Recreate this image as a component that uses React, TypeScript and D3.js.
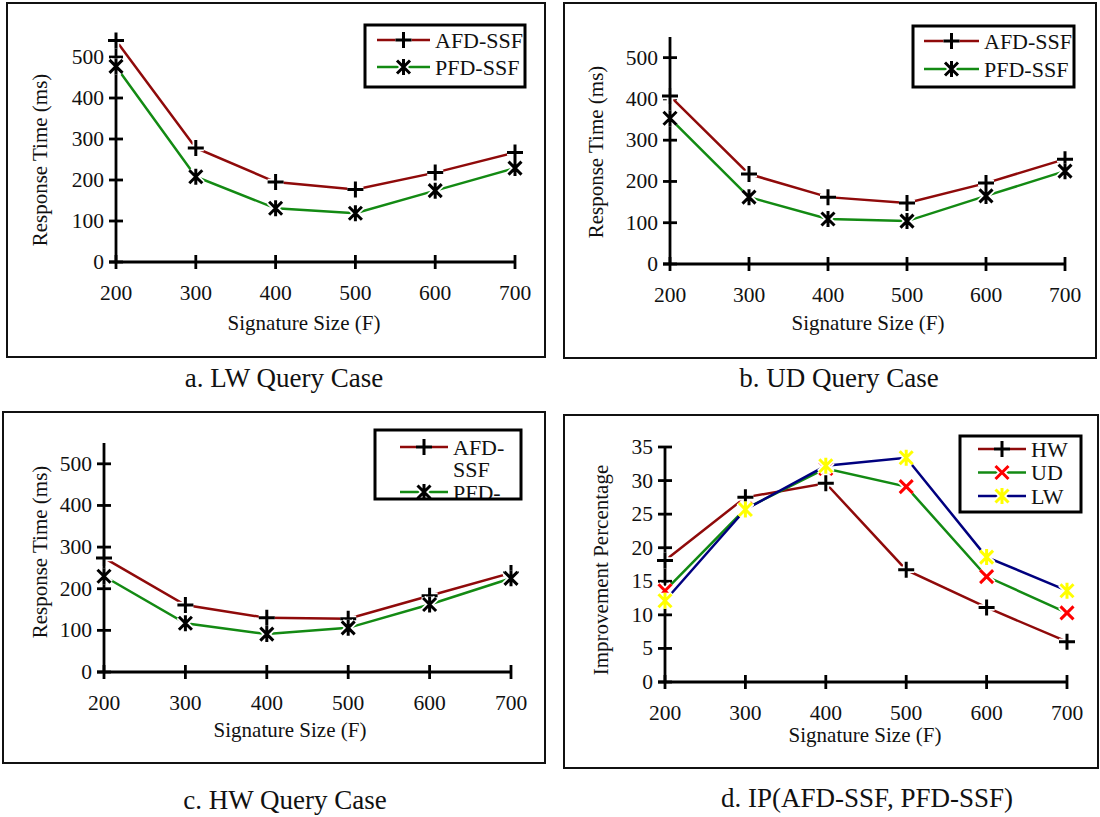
import * as d3 from 'd3';

// Signature sizes (F) shared by all four panels
const signatureSizes = [200, 300, 400, 500, 600, 700];

// Response time (ms)
const lwAfd = [540, 278, 195, 177, 218, 267];
const lwPfd = [477, 208, 131, 119, 174, 229];
const udAfd = [407, 218, 162, 148, 196, 254];
const udPfd = [353, 162, 109, 104, 165, 225];
const hwAfd = [274, 161, 130, 128, 183, 238];
const hwPfd = [230, 117, 91, 106, 162, 225];

// Improvement percentage IP(AFD-SSF, PFD-SSF)
const ipHw = [18.1, 27.5, 29.6, 16.7, 11.1, 6.0];
const ipUd = [13.6, 25.8, 31.8, 29.1, 15.7, 10.3];
const ipLw = [12.1, 25.7, 32.2, 33.4, 18.6, 13.6];

const responseTicks = [0, 100, 200, 300, 400, 500];
const ipTicks = [0, 5, 10, 15, 20, 25, 30, 35];

const FONT = '"Liberation Serif", "Times New Roman", serif';
const RED_LINE = '#8f0a0a';
const GREEN_LINE = '#138a13';
const BLUE_LINE = '#00007f';

type MarkerKind = 'plus' | 'star' | 'cross';

interface Series {
    name: string;
    values: number[];
    color: string;
    marker: MarkerKind;
    markerColor: string;
}

interface Layout {
    frame: { x: number; y: number; w: number; h: number };
    x0: number; x1: number;
    y0: number; yTop: number;
    yMax: number;
    xTitle: [number, number];
    yTitle: [number, number];
    caption: [number, number];
    legend: { x: number; y: number; w: number; h: number; firstRow: number; rowGap: number; lineX0: number; lineX1: number; textX: number; wrap: boolean };
}

interface PanelProps {
    id: string;
    layout: Layout;
    series: Series[];
    ticks: number[];
    yLabel: string;
    caption: string;
}

const markerPath = (kind: MarkerKind, x: number, y: number) => {
    const s = 8;
    const c = 6.5;
    const cross = `M${x - c},${y - c}L${x + c},${y + c}M${x - c},${y + c}L${x + c},${y - c}`;
    if (kind === 'plus') return `M${x - s},${y}H${x + s}M${x},${y - s}V${y + s}`;
    if (kind === 'cross') return cross;
    return cross + `M${x},${y - s}V${y + s}`;
};

const Marker = ({ kind, x, y, color }: { kind: MarkerKind; x: number; y: number; color: string }) => {
    const d = markerPath(kind, x, y);
    return (
        <g fill="none">
            <path d={d} stroke="white" strokeWidth={6.5} />
            <path d={d} stroke={color} strokeWidth={3} />
        </g>
    );
};

const Panel = ({ id, layout, series, ticks, yLabel, caption }: PanelProps) => {
    const { frame, legend } = layout;
    const x = d3.scaleLinear().domain([200, 700]).range([layout.x0, layout.x1]);
    const y = d3.scaleLinear().domain([0, layout.yMax]).range([layout.y0, layout.yTop]);
    const line = d3.line<number>()
        .x((_, i) => x(signatureSizes[i]))
        .y(v => y(v));

    // legend rows, optionally wrapped at the hyphen like the original
    const rows: { text: string; s?: Series }[] = [];
    series.forEach(s => {
        if (legend.wrap && s.name.includes('-')) {
            const [a, b] = s.name.split('-');
            rows.push({ text: a + '-', s });
            rows.push({ text: b });
        } else {
            rows.push({ text: s.name, s });
        }
    });

    return (
        <g fontFamily={FONT} fill="#111">
            <rect x={frame.x} y={frame.y} width={frame.w} height={frame.h} fill="white" stroke="#111" strokeWidth={2} />

            {/* axes */}
            <g stroke="#000" strokeWidth={2.8}>
                <line x1={layout.x0} x2={layout.x0} y1={layout.yTop} y2={layout.y0} />
                <line x1={layout.x0 - 7} x2={layout.x1} y1={layout.y0} y2={layout.y0} />
                {ticks.map(t => (
                    <line key={'yt' + t} x1={layout.x0 - 7} x2={layout.x0 + 7} y1={y(t)} y2={y(t)} />
                ))}
                {signatureSizes.map(t => (
                    <line key={'xt' + t} x1={x(t)} x2={x(t)} y1={layout.y0 - 7} y2={layout.y0 + 7} />
                ))}
            </g>
            <g fontSize={21.5}>
                {ticks.map(t => (
                    <text key={'yl' + t} x={layout.x0 - 12} y={y(t)} textAnchor="end" dominantBaseline="central">{t}</text>
                ))}
                {signatureSizes.map(t => (
                    <text key={'xl' + t} x={x(t)} y={layout.y0 + 38} textAnchor="middle">{t}</text>
                ))}
            </g>
            <text x={layout.xTitle[0]} y={layout.xTitle[1]} fontSize={21} textAnchor="middle" dominantBaseline="central">Signature Size (F)</text>
            <text transform={`translate(${layout.yTitle[0]},${layout.yTitle[1]}) rotate(-90)`} fontSize={21} textAnchor="middle" dominantBaseline="central">{yLabel}</text>

            {/* series */}
            {series.map(s => (
                <path key={s.name} d={line(s.values) ?? ''} fill="none" stroke={s.color} strokeWidth={2.5} />
            ))}
            {series.map(s => s.values.map((v, i) => (
                <Marker key={s.name + i} kind={s.marker} x={x(signatureSizes[i])} y={y(v)} color={s.markerColor} />
            )))}

            {/* legend */}
            <clipPath id={'clip-' + id}>
                <rect x={legend.x} y={legend.y} width={legend.w} height={legend.h} />
            </clipPath>
            <g clipPath={`url(#clip-${id})`}>
                {rows.map((r, i) => {
                    const ry = legend.firstRow + i * legend.rowGap;
                    return (
                        <g key={'lg' + i}>
                            {r.s && (
                                <>
                                    <line x1={legend.lineX0} x2={legend.lineX1} y1={ry} y2={ry} stroke={r.s.color} strokeWidth={2.5} />
                                    <Marker kind={r.s.marker} x={(legend.lineX0 + legend.lineX1) / 2} y={ry} color={r.s.markerColor} />
                                </>
                            )}
                            <text x={legend.textX} y={ry} fontSize={22} dominantBaseline="central">{r.text}</text>
                        </g>
                    );
                })}
            </g>
            <rect x={legend.x} y={legend.y} width={legend.w} height={legend.h} fill="none" stroke="#000" strokeWidth={3} />

            <text x={layout.caption[0]} y={layout.caption[1]} fontSize={27} textAnchor="middle" dominantBaseline="central">{caption}</text>
        </g>
    );
};

const layoutA: Layout = {
    frame: { x: 7, y: 3, w: 538, h: 354 },
    x0: 116, x1: 515, y0: 262, yTop: 36.5, yMax: 550,
    xTitle: [304, 323], yTitle: [40, 160], caption: [284, 378],
    legend: { x: 365, y: 25, w: 160, h: 62, firstRow: 40, rowGap: 27, lineX0: 377, lineX1: 430, textX: 435, wrap: false },
};
const layoutB: Layout = {
    frame: { x: 564, y: 3, w: 532, h: 355 },
    x0: 670, x1: 1065, y0: 264, yTop: 37, yMax: 550,
    xTitle: [868, 323], yTitle: [596, 152], caption: [839, 378],
    legend: { x: 913, y: 26, w: 161, h: 61, firstRow: 41, rowGap: 28, lineX0: 924, lineX1: 979, textX: 984, wrap: false },
};
const layoutC: Layout = {
    frame: { x: 3, y: 412, w: 542, h: 351 },
    x0: 104, x1: 511, y0: 672, yTop: 443, yMax: 550,
    xTitle: [290, 730], yTitle: [40, 552], caption: [285, 800],
    legend: { x: 375, y: 430, w: 146, h: 69, firstRow: 447, rowGap: 22.5, lineX0: 400, lineX1: 448, textX: 453, wrap: true },
};
const layoutD: Layout = {
    frame: { x: 564, y: 415, w: 534, h: 353 },
    x0: 665, x1: 1067, y0: 682, yTop: 447, yMax: 35,
    xTitle: [865, 735], yTitle: [601, 570], caption: [867, 798],
    legend: { x: 960, y: 436, w: 121, h: 76, firstRow: 449, rowGap: 23.5, lineX0: 978, lineX1: 1026, textX: 1031, wrap: false },
};

const pair = (afd: number[], pfd: number[]): Series[] => [
    { name: 'AFD-SSF', values: afd, color: RED_LINE, marker: 'plus', markerColor: '#000' },
    { name: 'PFD-SSF', values: pfd, color: GREEN_LINE, marker: 'star', markerColor: '#000' },
];

const ipSeries: Series[] = [
    { name: 'HW', values: ipHw, color: RED_LINE, marker: 'plus', markerColor: '#000' },
    { name: 'UD', values: ipUd, color: GREEN_LINE, marker: 'cross', markerColor: '#ff0000' },
    { name: 'LW', values: ipLw, color: BLUE_LINE, marker: 'star', markerColor: '#ffff00' },
];

export default function App() {
    return (
        <svg width={1100} height={817} style={{ position: 'absolute', left: 0, top: 0, background: 'white' }}>
            <rect width={1100} height={817} fill="white" />
            <Panel id="a" layout={layoutA} series={pair(lwAfd, lwPfd)} ticks={responseTicks} yLabel="Response Time (ms)" caption="a. LW Query Case" />
            <Panel id="b" layout={layoutB} series={pair(udAfd, udPfd)} ticks={responseTicks} yLabel="Response Time (ms)" caption="b. UD Query Case" />
            <Panel id="c" layout={layoutC} series={pair(hwAfd, hwPfd)} ticks={responseTicks} yLabel="Response Time (ms)" caption="c. HW Query Case" />
            <Panel id="d" layout={layoutD} series={ipSeries} ticks={ipTicks} yLabel="Improvement Percentage" caption="d. IP(AFD-SSF, PFD-SSF)" />
        </svg>
    );
}
